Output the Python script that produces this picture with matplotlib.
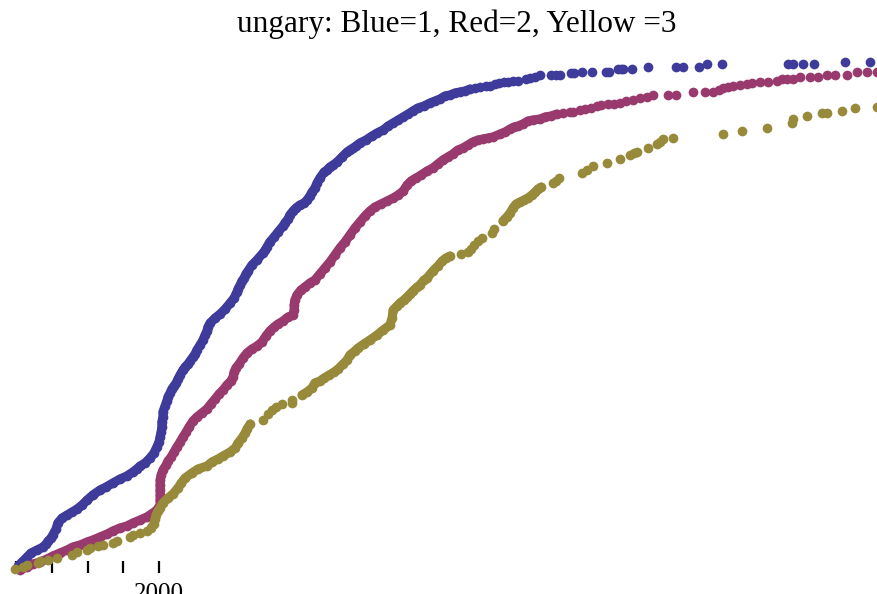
import matplotlib
matplotlib.use("Agg")
import matplotlib.pyplot as plt

# cumulative curves: x = year, y = cumulative level
blue_year = [1996.06, 1996.17, 1996.31, 1996.42, 1996.59, 1996.76, 1996.84, 1996.90, 1996.98, 1997.03,
             1997.12, 1997.17, 1997.29, 1997.43, 1997.57, 1997.71, 1997.85, 1997.99, 1998.15, 1998.35,
             1998.52, 1998.71, 1998.91, 1999.10, 1999.27, 1999.38, 1999.47, 1999.61, 1999.75, 1999.86,
             1999.94, 2000.00, 2000.03, 2000.06, 2000.08, 2000.08, 2000.11, 2000.11, 2000.17, 2000.22,
             2000.25, 2000.31, 2000.36, 2000.42, 2000.48, 2000.53, 2000.59, 2000.67, 2000.73, 2000.81,
             2000.87, 2000.95, 2001.01, 2001.06, 2001.15, 2001.23, 2001.29, 2001.34, 2001.37, 2001.43,
             2001.57, 2001.71, 2001.85, 2001.99, 2002.10, 2002.18, 2002.21, 2002.27, 2002.32, 2002.38,
             2002.43, 2002.49, 2002.60, 2002.74, 2002.91, 2002.97, 2003.02, 2003.10, 2003.22, 2003.33,
             2003.47, 2003.52, 2003.61, 2003.66, 2003.75, 2003.83, 2003.94, 2004.06, 2004.14, 2004.22,
             2004.28, 2004.36, 2004.42, 2004.50, 2004.62, 2004.70, 2004.78, 2004.87, 2004.98, 2005.12,
             2005.26, 2005.34, 2005.43, 2005.51, 2005.62, 2005.79, 2005.96, 2006.10, 2006.27, 2006.41,
             2006.55, 2006.69, 2006.83, 2006.97, 2007.10, 2007.24, 2007.41, 2007.58, 2007.72, 2007.86,
             2008.00, 2008.14, 2008.28, 2008.42, 2008.56, 2008.70, 2008.84, 2008.98, 2009.15, 2009.26,
             2009.40, 2009.51, 2009.65, 2009.76, 2009.90, 2010.04, 2010.27, 2010.38, 2010.52, 2010.66,
             2010.97, 2011.10, 2011.22, 2011.52, 2011.61, 2011.83, 2012.11, 2012.50, 2012.59, 2012.84,
             2012.92, 2012.98, 2013.23, 2013.68, 2014.46, 2014.66, 2015.10, 2015.33, 2015.75, 2017.59,
             2017.73, 2018.01, 2018.32, 2019.19, 2019.89]
blue_level = [1.2, 2.0, 3.0, 3.8, 4.4, 5.0, 5.6, 6.2, 6.8, 7.4,
              8.6, 9.8, 10.8, 11.4, 12.0, 12.6, 13.4, 14.4, 15.4, 16.4,
              17.0, 17.8, 18.6, 19.2, 20.0, 20.6, 21.2, 21.8, 22.8, 23.8,
              25.0, 26.0, 27.0, 28.0, 29.0, 30.0, 31.0, 32.0, 33.2, 34.2,
              35.0, 35.8, 36.6, 37.2, 37.8, 38.6, 39.4, 40.4, 41.0, 41.6,
              42.2, 43.0, 43.6, 44.4, 45.4, 46.4, 47.4, 48.2, 49.0, 49.8,
              50.8, 51.6, 52.6, 53.8, 54.8, 56.0, 56.6, 57.4, 58.2, 58.8,
              59.6, 60.2, 61.4, 62.4, 63.8, 64.4, 65.0, 66.0, 67.0, 68.0,
              69.2, 69.8, 70.6, 71.4, 72.2, 72.8, 73.4, 73.8, 74.4, 75.2,
              76.0, 76.8, 77.8, 78.8, 80.0, 80.4, 81.0, 81.4, 82.0, 83.0,
              84.0, 84.4, 84.8, 85.2, 85.8, 86.4, 87.2, 87.8, 88.4, 89.2,
              89.8, 90.4, 91.0, 91.6, 92.2, 92.8, 93.2, 93.8, 94.2, 94.6,
              95.2, 95.4, 95.8, 96.0, 96.2, 96.6, 96.8, 97.0, 97.2, 97.2,
              97.6, 97.8, 98.0, 98.0, 98.2, 98.2, 98.6, 98.8, 99.0, 99.4,
              99.4, 99.4, 99.4, 99.8, 99.8, 100.0, 100.0, 100.0, 100.0, 100.6,
              100.6, 100.6, 100.6, 101.0, 101.0, 101.0, 101.0, 101.6, 101.6, 101.6,
              101.6, 101.6, 101.6, 102.0, 102.0]

red_year = [1996.11, 1996.31, 1996.48, 1996.67, 1996.87, 1997.03, 1997.23, 1997.43, 1997.59, 1997.79,
            1997.99, 1998.15, 1998.35, 1998.55, 1998.71, 1998.91, 1999.10, 1999.27, 1999.47, 1999.66,
            1999.83, 1999.94, 2000.03, 2000.03, 2000.03, 2000.03, 2000.03, 2000.03, 2000.06, 2000.11,
            2000.20, 2000.25, 2000.34, 2000.42, 2000.50, 2000.59, 2000.67, 2000.76, 2000.84, 2000.95,
            2001.06, 2001.20, 2001.34, 2001.45, 2001.57, 2001.68, 2001.79, 2001.90, 2002.01, 2002.07,
            2002.10, 2002.15, 2002.24, 2002.35, 2002.46, 2002.60, 2002.74, 2002.88, 2002.99, 2003.10,
            2003.22, 2003.33, 2003.47, 2003.61, 2003.75, 2003.78, 2003.78, 2003.80, 2003.86, 2003.97,
            2004.08, 2004.22, 2004.36, 2004.50, 2004.64, 2004.78, 2004.92, 2005.06, 2005.20, 2005.34,
            2005.48, 2005.62, 2005.76, 2005.90, 2006.04, 2006.21, 2006.38, 2006.55, 2006.69, 2006.83,
            2006.94, 2007.05, 2007.19, 2007.33, 2007.50, 2007.66, 2007.80, 2007.94, 2008.08, 2008.22,
            2008.36, 2008.50, 2008.64, 2008.78, 2008.92, 2009.06, 2009.20, 2009.34, 2009.54, 2009.68,
            2009.82, 2009.93, 2010.04, 2010.18, 2010.32, 2010.46, 2010.66, 2010.80, 2010.97, 2011.13,
            2011.30, 2011.50, 2011.58, 2011.78, 2011.92, 2012.08, 2012.25, 2012.36, 2012.56, 2012.73,
            2012.90, 2013.06, 2013.26, 2013.45, 2013.65, 2013.82, 2014.24, 2014.46, 2014.94, 2015.27,
            2015.50, 2015.66, 2015.78, 2015.92, 2016.06, 2016.25, 2016.45, 2016.59, 2016.81, 2017.03,
            2017.29, 2017.43, 2017.57, 2017.73, 2017.93, 2018.21, 2018.43, 2018.69, 2018.91, 2019.24,
            2019.52, 2019.80, 2020.08]
red_level = [0.4, 1.0, 1.6, 2.0, 2.6, 3.2, 3.8, 4.4, 5.0, 5.4,
             6.0, 6.4, 7.0, 7.6, 8.2, 8.8, 9.2, 9.8, 10.4, 11.0,
             11.8, 12.4, 13.4, 14.4, 15.4, 16.4, 17.4, 18.4, 19.4, 20.4,
             21.4, 22.2, 23.0, 24.0, 25.0, 26.0, 27.0, 28.0, 29.0, 30.2,
             31.0, 31.8, 32.6, 33.6, 34.6, 35.6, 36.4, 37.4, 38.2, 39.0,
             40.0, 40.8, 41.6, 42.8, 43.8, 44.6, 45.2, 46.0, 47.2, 48.2,
             49.0, 49.6, 50.2, 51.0, 51.4, 52.4, 53.4, 54.4, 55.4, 56.4,
             57.0, 57.8, 58.4, 59.6, 60.8, 62.0, 63.4, 64.8, 66.0, 67.4,
             68.8, 70.0, 71.2, 72.2, 73.0, 73.6, 74.2, 74.8, 75.4, 76.2,
             77.4, 78.2, 78.8, 79.4, 80.2, 80.8, 81.6, 82.4, 83.0, 83.6,
             84.4, 84.8, 85.4, 86.0, 86.4, 86.6, 86.8, 87.0, 87.6, 88.0,
             88.6, 89.0, 89.2, 89.6, 90.2, 90.4, 90.6, 91.0, 91.2, 91.6,
             91.8, 92.0, 92.0, 92.4, 92.6, 92.8, 93.2, 93.4, 93.6, 93.6,
             93.8, 94.2, 94.4, 94.8, 95.0, 95.4, 95.4, 95.4, 96.0, 96.0,
             96.0, 96.4, 96.8, 97.0, 97.2, 97.4, 97.6, 97.8, 98.0, 98.0,
             98.2, 98.6, 98.6, 98.6, 99.0, 99.0, 99.0, 99.4, 99.4, 99.4,
             100.0, 100.0, 100.0]

yellow_year = [1995.97, 1996.20, 1996.31, 1996.62, 1996.67, 1996.90, 1997.15, 1997.57, 1997.71, 1997.99,
               1998.07, 1998.29, 1998.43, 1998.71, 1998.83, 1999.19, 1999.27, 1999.47, 1999.66, 1999.78,
               1999.86, 1999.89, 1999.92, 1999.97, 2000.03, 2000.11, 2000.25, 2000.39, 2000.53, 2000.62,
               2000.73, 2000.92, 2001.09, 2001.34, 2001.48, 2001.65, 2001.79, 2001.99, 2002.13, 2002.21,
               2002.32, 2002.41, 2002.46, 2002.55, 2002.91, 2003.05, 2003.16, 2003.27, 2003.44, 2003.72,
               2003.72, 2004.00, 2004.14, 2004.28, 2004.36, 2004.50, 2004.62, 2004.76, 2004.90, 2005.01,
               2005.15, 2005.26, 2005.34, 2005.48, 2005.57, 2005.73, 2005.90, 2006.10, 2006.27, 2006.46,
               2006.52, 2006.55, 2006.66, 2006.74, 2006.85, 2006.94, 2007.02, 2007.10, 2007.22, 2007.30,
               2007.41, 2007.50, 2007.66, 2007.80, 2007.92, 2008.03, 2008.14, 2008.45, 2008.64, 2008.73,
               2008.81, 2008.92, 2009.03, 2009.31, 2009.37, 2009.62, 2009.73, 2009.82, 2009.90, 2009.99,
               2010.10, 2010.21, 2010.32, 2010.43, 2010.52, 2010.60, 2010.69, 2011.02, 2011.10, 2011.19,
               2011.83, 2011.97, 2012.14, 2012.53, 2012.90, 2013.17, 2013.29, 2013.37, 2013.68, 2013.93,
               2014.01, 2014.10, 2014.38, 2015.78, 2016.31, 2017.01, 2017.71, 2017.73, 2018.13, 2018.55,
               2018.69, 2019.10, 2019.47, 2020.08]
yellow_level = [0.6, 1.0, 1.4, 1.8, 2.2, 2.4, 2.8, 3.4, 4.0, 4.4,
                4.8, 5.2, 5.4, 5.8, 6.2, 7.0, 7.4, 7.8, 8.2, 8.8,
                9.6, 10.6, 11.4, 12.2, 12.8, 13.8, 14.8, 15.6, 16.8, 17.8,
                18.8, 19.8, 20.6, 21.2, 22.0, 22.6, 23.2, 24.0, 24.8, 25.8,
                26.8, 27.8, 28.6, 29.6, 30.4, 31.6, 32.4, 33.0, 33.6, 33.8,
                34.4, 35.4, 36.0, 36.8, 37.8, 38.2, 38.8, 39.4, 40.0, 40.6,
                41.6, 42.4, 43.4, 44.2, 44.8, 45.6, 46.4, 47.4, 48.4, 49.4,
                50.8, 52.4, 53.2, 53.8, 54.4, 55.0, 55.6, 56.2, 57.0, 57.4,
                58.4, 58.8, 60.2, 61.2, 62.2, 62.8, 63.2, 63.6, 64.0, 64.6,
                65.4, 66.2, 66.8, 67.8, 68.6, 70.2, 71.0, 71.8, 72.8, 73.6,
                74.0, 74.4, 74.8, 75.4, 76.0, 76.6, 77.0, 77.8, 78.2, 78.8,
                79.8, 80.4, 81.2, 81.8, 82.6, 83.4, 83.8, 84.0, 84.8, 85.6,
                86.0, 86.6, 86.8, 87.6, 88.2, 88.8, 89.8, 90.6, 91.2, 91.8,
                91.8, 92.2, 92.8, 93.0]

# stretches where the points are packed so tightly they merge into a band
blue_dense = slice(0, 126)
red_dense = slice(0, 120)
yellow_dense = [slice(19, 44), slice(51, 87), slice(95, 107)]

tick_years = [1996, 1997, 1998, 1999, 2000]
tick_labels = ["", "", "", "", "2000"]

c_blue, c_red, c_yellow = "#3f3b9b", "#993a6e", "#988a3b"

fig = plt.figure(figsize=(8.78, 5.94), dpi=100)
ax = fig.add_axes([0, 0, 1, 1])

band = dict(lw=6.6, solid_capstyle="round", solid_joinstyle="round")

ax.plot(blue_year[blue_dense], blue_level[blue_dense], "-", color=c_blue, **band)
ax.plot(blue_year, blue_level, "o", ms=7, mew=0, color=c_blue)
ax.plot(red_year[red_dense], red_level[red_dense], "-", color=c_red, **band)
ax.plot(red_year, red_level, "o", ms=7, mew=0, color=c_red)
for sl in yellow_dense:
    ax.plot(yellow_year[sl], yellow_level[sl], "-", color=c_yellow, **band)
ax.plot(yellow_year, yellow_level, "o", ms=7, mew=0, color=c_yellow)

ax.set_xlim(1995.5524, 2020.1119)
ax.set_ylim(-4.4, 114.4)

for s in ["top", "right", "left"]:
    ax.spines[s].set_visible(False)
ax.spines["bottom"].set_position(("data", 2.2))
ax.spines["bottom"].set_color("none")
ax.set_yticks([])
ax.set_xticks(tick_years)
ax.set_xticklabels(tick_labels, family="Liberation Serif", fontsize=18)
ax.tick_params(axis="x", direction="out", length=8.8, width=1.6, color="black", pad=7)

fig.text(0.52, 1 - 32 / 594, "ungary: Blue=1, Red=2, Yellow =3", ha="center", va="baseline",
         family="Liberation Serif", fontsize=22.5)

fig.savefig("out.png", dpi=100)
